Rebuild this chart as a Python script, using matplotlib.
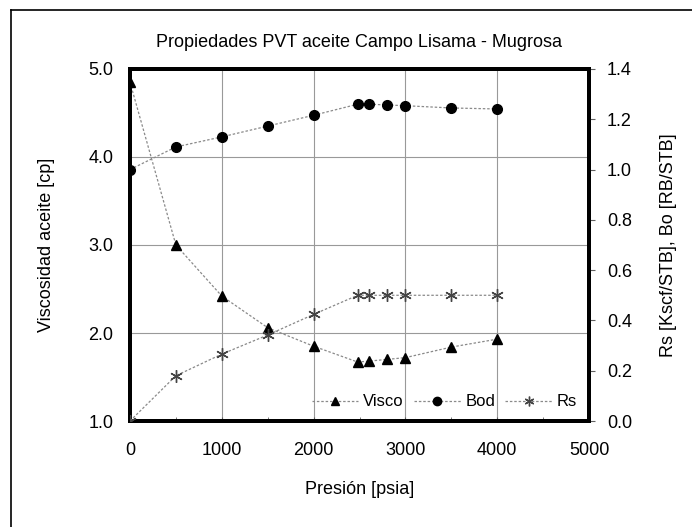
import matplotlib
matplotlib.use("Agg")
import matplotlib.pyplot as plt
from matplotlib.lines import Line2D

plt.rcParams["font.family"] = ["Liberation Sans", "DejaVu Sans"]

# Pressure points [psia]
presion = [0, 500, 1000, 1500, 2000, 2480, 2600, 2800, 3000, 3500, 4000]
# Oil viscosity [cp]
visco = [4.85, 3.0, 2.42, 2.06, 1.85, 1.67, 1.68, 1.70, 1.72, 1.84, 1.93]
# Bo [RB/STB]
bod = [1.0, 1.09, 1.13, 1.173, 1.216, 1.26, 1.26, 1.257, 1.254, 1.245, 1.241]
# Rs [Kscf/STB]
rs = [0.0, 0.18, 0.266, 0.342, 0.424, 0.50, 0.50, 0.50, 0.50, 0.50, 0.50]

W, H = 692, 527
fig = plt.figure(figsize=(W / 100, H / 100), dpi=100)
ax = fig.add_axes([130 / W, 1 - 421 / H, (589 - 130) / W, (421 - 69) / H])
ax2 = ax.twinx()

line_kw = dict(color="#8a8a8a", linestyle=(0, (2, 1.5)), linewidth=0.9)

ax.plot(presion, visco, marker="^", markersize=7, markerfacecolor="black",
        markeredgecolor="black", zorder=3, **line_kw)
ax2.plot(presion, bod, marker="o", markersize=7, markerfacecolor="black",
         markeredgecolor="black", zorder=3, **line_kw)
ax2.plot(presion, rs, marker=(6, 2, 0), markersize=9, markeredgecolor="#444444",
         markeredgewidth=1.0, zorder=3, **line_kw)

ax.set_xlim(0, 5000)
ax.set_ylim(1.0, 5.0)
ax2.set_ylim(0.0, 1.4)
ax.set_xticks(range(0, 5001, 1000))
ax.set_xticks(range(500, 5000, 1000), minor=True)
ax.set_yticks([1.0, 2.0, 3.0, 4.0, 5.0])
ax.set_yticklabels(["1.0", "2.0", "3.0", "4.0", "5.0"])
ax2.set_yticks([0.0, 0.2, 0.4, 0.6, 0.8, 1.0, 1.2, 1.4])
ax2.set_yticklabels(["0.0", "0.2", "0.4", "0.6", "0.8", "1.0", "1.2", "1.4"])

ax.grid(True, which="major", color="#999999", linewidth=0.8)
ax.set_axisbelow(True)

ax.tick_params(axis="x", which="both", direction="in", length=3, pad=15,
               labelsize=13, color="#606060")
ax.tick_params(axis="y", length=0, pad=12, labelsize=13)
ax2.tick_params(axis="y", direction="out", length=4, pad=9, labelsize=13,
                color="#606060")

for a in (ax, ax2):
    for s in a.spines.values():
        s.set_linewidth(2.8)
        s.set_color("black")

ax.set_title("Propiedades PVT aceite Campo Lisama - Mugrosa", fontsize=13, pad=16)
ax.set_xlabel("Presión [psia]", fontsize=13, labelpad=16)
ax.set_ylabel("Viscosidad aceite [cp]", fontsize=13, labelpad=24)
ax2.set_ylabel("Rs [Kscf/STB], Bo [RB/STB]", fontsize=13, labelpad=20, rotation=90)

handles = [
    Line2D([], [], marker="^", markersize=6, markerfacecolor="black",
           markeredgecolor="black", **line_kw),
    Line2D([], [], marker="o", markersize=6, markerfacecolor="black",
           markeredgecolor="black", **line_kw),
    Line2D([], [], marker=(6, 2, 0), markersize=7, markeredgecolor="#444444", **line_kw),
]
ax2.legend(handles, ["Visco", "Bod", "Rs"], loc="lower right", ncol=3,
           frameon=False, fontsize=12, handlelength=2.8, handletextpad=0.3,
           columnspacing=0.6, bbox_to_anchor=(1.0, 0.0), borderaxespad=0.3)

# outer chart border (left and top edges visible in the reference)
fig.add_artist(Line2D([11.5 / W, 11.5 / W], [0, 1 - 10 / H], color="black",
                      linewidth=1.2, transform=fig.transFigure))
fig.add_artist(Line2D([11.5 / W, 1], [1 - 10 / H, 1 - 10 / H], color="black",
                      linewidth=1.2, transform=fig.transFigure))

fig.savefig("out.png", dpi=100)
